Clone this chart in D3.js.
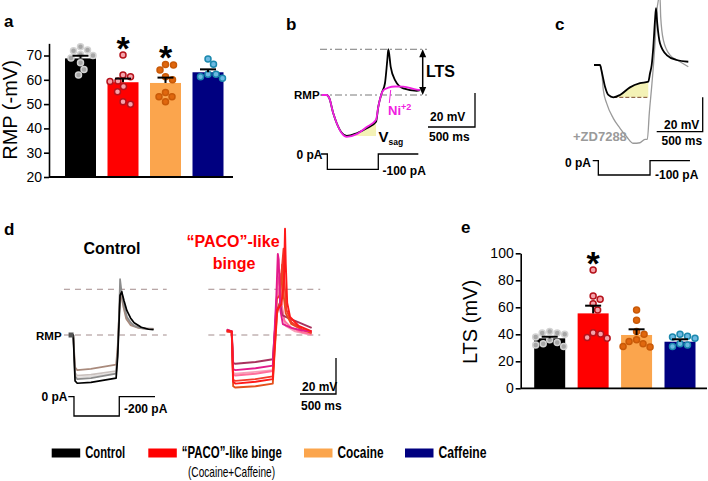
<!DOCTYPE html>
<html lang="en">
<head>
<meta charset="UTF-8">
<title>RMP, LTS and traces</title>
<script src="https://d3js.org/d3.v7.min.js"></script>
<style>
  body { margin: 0; background: #fff; }
  svg { font-family: "Liberation Sans", Arial, sans-serif; }
  .bold { font-weight: bold; }
</style>
</head>
<body>
<svg width="708" height="481"></svg>
<script>
// ---------- data ----------
const groups = ["Control", "PACO", "Cocaine", "Caffeine"];
const legendNames = ["Control", "\u201cPACO\u201d-like binge", "Cocaine", "Caffeine"];
const barColors = ["#000000", "#ff0000", "#fba54d", "#000080"];
const dotFill = ["#a6a6a6", "#f5a3ab", "#e0670e", "#6cb9e2"];
const dotStroke = ["#d2d2d2", "#b5121b", "#c95a08", "#1b88ad"];

// a: resting membrane potential (-mV)
const rmpMean = [68.8, 59.0, 58.7, 63.1];
const rmpSem = [1.1, 1.5, 2.2, 1.2];
const rmpPoints = [
  [73.6, 72.3, 72, 70.4, 70, 69, 67, 64.2, 62],
  [70.2, 62, 61.3, 59.5, 59.3, 57.2, 55.1, 51, 49.9],
  [66.3, 66.1, 64, 61.3, 60, 54.8, 53, 53, 51],
  [68.6, 66.4, 62.3, 62.3, 61.3, 60.6]
];
const rmpTicks = [20, 30, 40, 50, 60, 70];
const rmpStars = ["PACO", "Cocaine"];

// e: LTS amplitude (mV)
const ltsMean = [37, 55.5, 39.5, 34.5];
const ltsSem = [1.2, 5.7, 4.2, 1.8];
const ltsPoints = [
  [42, 41, 41, 40, 38, 36, 34, 33, 32, 31],
  [87.6, 68.4, 65.9, 62.7, 58, 41.2, 40.2, 37.7, 37],
  [58, 50.5, 42, 40, 36, 34.6, 33, 31, 30.6],
  [40, 38.5, 38, 37, 33, 32, 31]
];
const ltsTicks = [0, 20, 40, 60, 80, 100];
const ltsStars = ["PACO"];

// b: example trace [ms, mV from RMP], control and Ni2+
const traceB = [[0,0],[53,0],[81,-1.9],[123,-10.8],[160,-16.6],[213,-22.2],[266,-24.1],[372,-22.5],[479,-19.6],[578,-15.7],[602,-6.9],[638,1],[673,6.9],[698,20.6],[709,26.9],[734,16.6],[780,8.8],[868,3.9],[1011,2.5],[1046,2.9]];
const traceBNi = [[0,0],[53,0],[81,-1.9],[123,-10.8],[160,-16.6],[213,-22.5],[266,-24.6],[372,-23],[479,-18.8],[578,-14.5],[602,-7],[638,1],[660,3],[709,4.3],[780,5],[868,4.9],[1011,3.2],[1046,3]];
const stepB = [[-7,0],[60,0],[60,-100],[602,-100],[602,0],[1028,0]];

// c: control and +ZD7288
const traceC = [[0,0],[65,0],[84,-3.9],[120,-12.6],[156,-17.4],[210,-18.8],[283,-17.4],[391,-13],[500,-10.6],[590,-9.7],[609,-4.8],[627,0],[645,10.6],[663,26],[674,33],[688,24],[717,12.6],[790,5.8],[899,2.9],[1025,1.9]];
const traceCZD = [[0,0],[65,0],[84,-3.9],[101,-14.5],[138,-22.3],[210,-31],[283,-36.8],[355,-41.7],[427,-45.5],[500,-45.2],[554,-43.2],[580,-43.2],[601,-28.1],[627,-12.6],[645,-1],[663,12.6],[681,30],[700,37.8],[717,40],[725,28],[754,14.5],[826,5.8],[935,1.9],[1025,-1]];
const stepC = [[-14,0],[47,0],[47,-100],[609,-100],[609,0],[1043,0]];

// d: control traces
const ctrlTraces = [
  {c: "#e2dedd", d: [[0,0],[55,0],[80,-22],[110,-23.5],[300,-23],[650,-21],[672,-9],[690,9],[705,23],[725,21],[760,14],[810,8],[900,5],[1050,3.6],[1170,3.2]]},
  {c: "#c9c0bd", d: [[0,0],[55,0],[80,-21],[110,-22.5],[300,-22],[650,-20],[672,-8],[690,10],[705,25],[725,24],[760,16],[800,10],[870,6],[1000,4],[1170,3.5]]},
  {c: "#a98a7c", d: [[0,0],[55,0],[80,-18],[110,-19.5],[300,-18.8],[650,-16.5],[672,-6],[690,10],[705,20],[720,22],[750,16],[790,9],[850,5.5],[950,4],[1050,3.5],[1170,3.3]]},
  {c: "#8c8c8c", d: [[0,0],[55,0],[80,-23],[110,-24.5],[300,-24],[650,-21.5],[672,-10],[690,10],[705,31],[720,26],[750,18],[800,10],[850,7],[900,5],[1000,3.8],[1100,3.3],[1170,3.2]]},
  {c: "#000000", d: [[0,0],[55,0],[80,-25.5],[110,-26.8],[300,-26.3],[650,-24],[672,-12],[690,6],[705,22],[728,24],[760,19],[800,13.5],[850,9.5],[900,6.8],[1000,4.3],[1100,3.2],[1170,3]]}
];
// d: PACO-like binge traces
const pacoTraces = [
  {c: "#f7a0b8", d: [[0,2],[70,1.5],[90,-21],[120,-21.5],[400,-20.5],[640,-19.5],[665,0],[700,20],[730,26],[760,15],[820,5],[950,2],[1180,0]]},
  {c: "#ff6f9c", d: [[0,2],[70,1.5],[90,-22],[120,-22.5],[400,-21.5],[640,-20],[660,-5],[690,18],[715,30],[740,34],[760,18],[800,8],[900,4],[1050,1.5],[1180,0.5]]},
  {c: "#a8325e", d: [[0,3],[70,2],[90,-15.5],[120,-16],[400,-15],[640,-13.5],[655,-5],[680,8],[700,14],[740,18],[770,11],[850,9.5],[1000,7],[1180,4]]},
  {c: "#e4501c", d: [[0,2],[70,1.5],[90,-28.5],[120,-29.2],[400,-28.5],[640,-27],[665,-10],[700,12],[740,18],[770,39],[785,24],[820,12],[900,6],[1050,3],[1180,1]]},
  {c: "#f23a2a", d: [[0,2],[70,2],[90,-25],[120,-25.5],[400,-24.5],[640,-23],[662,-6],[695,20],[735,22],[790,48],[800,30],[830,14],[900,7],[1050,3],[1180,1.5]]},
  {c: "#e31b8c", d: [[0,3],[70,2],[90,-19],[120,-19.5],[400,-18.5],[640,-17],[660,-2],[690,22],[710,45],[722,42],[745,14],[780,6],[900,4],[1050,2.5],[1180,2]]},
  {c: "#ff1a1a", d: [[0,2.5],[70,2],[90,-26],[120,-27],[400,-26],[640,-24.5],[665,-8],[700,14],[760,17],[795,30],[810,59],[820,40],[840,18],[880,10],[1000,5],[1180,2]]}
];
const stepD = [[-14,0],[65,0],[65,-200],[694,-200],[694,0],[1190,0]];
const ltsLevelD = 25.4;

// ---------- helpers ----------
const svg = d3.select("svg");

function txt(x, y, s, size, opts = {}) {
  const t = svg.append("text").attr("x", x).attr("y", y).text(s)
    .attr("font-size", size).attr("fill", opts.fill || "#000");
  if (opts.bold !== false) t.attr("font-weight", "bold");
  if (opts.anchor) t.attr("text-anchor", opts.anchor);
  if (opts.len) t.attr("textLength", opts.len).attr("lengthAdjust", "spacingAndGlyphs");
  return t;
}

function dodge(vals, y, r) {
  const placed = [];
  return vals.map(v => {
    const py = y(v);
    let dx = 0;
    for (let k = 0; k < 400; k++) {
      const c = (k % 2 ? 1 : -1) * Math.ceil(k / 2) * 0.5;
      if (placed.every(p => (p.dx - c) ** 2 + (p.y - py) ** 2 >= (2 * r) ** 2)) { dx = c; break; }
    }
    const p = {dx, y: py};
    placed.push(p);
    return p;
  });
}

function barPanel(o) {
  const x = d3.scalePoint().domain(groups).range(o.xr);
  const y = d3.scaleLinear().domain(o.dom).range(o.yr);
  const g = svg.append("g");
  g.selectAll("rect").data(o.mean).join("rect")
    .attr("x", (d, i) => x(groups[i]) - o.bw / 2).attr("width", o.bw)
    .attr("y", d => y(d)).attr("height", d => y(o.dom[0]) - y(d))
    .attr("fill", (d, i) => barColors[i]);
  o.pts.forEach((vals, i) => {
    g.append("g").selectAll("circle").data(dodge(vals, y, 3.8)).join("circle")
      .attr("cx", p => x(groups[i]) + p.dx).attr("cy", p => p.y).attr("r", 3)
      .attr("fill", dotFill[i]).attr("stroke", dotStroke[i]).attr("stroke-width", 1.5);
  });
  o.mean.forEach((m, i) => {
    const cx = x(groups[i]);
    g.append("line").attr("x1", cx).attr("x2", cx).attr("y1", y(m)).attr("y2", y(m + o.sem[i]))
      .attr("stroke", "#000").attr("stroke-width", 2);
    g.append("line").attr("x1", cx - 8).attr("x2", cx + 8).attr("y1", y(m + o.sem[i])).attr("y2", y(m + o.sem[i]))
      .attr("stroke", "#000").attr("stroke-width", 2);
  });
  o.stars.forEach(s => {
    const i = groups.indexOf(s);
    g.append("text").attr("x", x(s)).attr("y", y(d3.max(o.pts[i])) + 5)
      .attr("text-anchor", "middle").attr("font-size", 34).attr("font-weight", "bold").text("*");
  });
  const ax = g.append("g").attr("transform", `translate(${o.x0},0)`)
    .call(d3.axisLeft(y).tickValues(o.ticks).tickSize(5).tickSizeOuter(0).tickPadding(2));
  ax.attr("font-family", null).attr("font-size", 14);
  ax.selectAll("line, path").attr("stroke-width", 1.6);
  g.append("line").attr("x1", o.x0).attr("x2", o.x1).attr("y1", y(o.dom[0])).attr("y2", y(o.dom[0]))
    .attr("stroke", "#000").attr("stroke-width", 1.8);
  g.append("text").attr("transform", `translate(${o.labX},${o.labY}) rotate(-90)`)
    .attr("text-anchor", "middle").attr("font-size", 20).text(o.label);
}

function tracePanel(xs, ys, data, color, w, curve) {
  svg.append("path").datum(data)
    .attr("d", d3.line().x(d => xs(d[0])).y(d => ys(d[1])).curve(curve || d3.curveMonotoneX))
    .attr("fill", "none").attr("stroke", color).attr("stroke-width", w).attr("stroke-linejoin", "round");
}

function stepLine(xs, is, data) {
  svg.append("path").datum(data)
    .attr("d", d3.line().x(d => xs(d[0])).y(d => is(d[1])))
    .attr("fill", "none").attr("stroke", "#000").attr("stroke-width", 1.3);
}

function scaleBar(xs, ys, xr, yb, lw) {
  const w = xs(500) - xs(0), h = ys(0) - ys(20);
  svg.append("path").attr("d", `M${xr - w},${yb}H${xr}V${yb - h}`)
    .attr("fill", "none").attr("stroke", "#000").attr("stroke-width", lw || 1.3);
}

// ---------- panel a ----------
txt(4, 27, "a", 17);
barPanel({xr: [80.5, 208], dom: [20, 75], yr: [177, 177 - 55 * 2.43], bw: 31, mean: rmpMean, sem: rmpSem,
  pts: rmpPoints, ticks: rmpTicks, stars: rmpStars, x0: 49, x1: 233, label: "RMP (-mV)", labX: 17, labY: 110});

// ---------- panel e ----------
txt(461, 233, "e", 17);
barPanel({xr: [549.7, 680], dom: [0, 100], yr: [388.3, 253.3], bw: 31, mean: ltsMean, sem: ltsSem,
  pts: ltsPoints, ticks: ltsTicks, stars: ltsStars, x0: 520.7, x1: 707, label: "LTS (mV)", labX: 477, labY: 322});

// ---------- panel b ----------
txt(286, 30, "b", 17);
const xb = d3.scaleLinear().domain([0, 500]).range([321.7, 321.7 + 47]);
const yb = d3.scaleLinear().domain([0, 20]).range([95, 95 - 34]);
const ib = d3.scaleLinear().domain([0, -100]).range([154, 169.3]);
{
  const vmin = d3.min(traceB, d => d[1]);
  const tMin = traceB.find(d => d[1] === vmin)[0];
  const seg = traceB.filter(d => d[0] >= tMin && d[0] <= 578);
  svg.append("path").datum(seg)
    .attr("d", d3.area().x(d => xb(d[0])).y0(yb(vmin)).y1(d => yb(d[1])).curve(d3.curveMonotoneX))
    .attr("fill", "#f4f2b6");
  const vmax = d3.max(traceB, d => d[1]);
  [0, vmax].forEach(v => svg.append("line").attr("x1", 320).attr("x2", 427).attr("y1", yb(v)).attr("y2", yb(v))
    .attr("stroke", "#7a7a7a").attr("stroke-dasharray", "7,3,2,3").attr("stroke-width", 1));
  tracePanel(xb, yb, traceB, "#000", 1.8);
  tracePanel(xb, yb, traceBNi, "#f020e0", 1.8);
  // LTS double arrow
  const ax = 422.7, y1 = yb(vmax), y2 = yb(0);
  svg.append("line").attr("x1", ax).attr("x2", ax).attr("y1", y1 + 4).attr("y2", y2 - 4).attr("stroke", "#000").attr("stroke-width", 1.5);
  svg.append("path").attr("d", `M${ax},${y1}L${ax - 3.5},${y1 + 8}L${ax + 3.5},${y1 + 8}Z M${ax},${y2}L${ax - 3.5},${y2 - 8}L${ax + 3.5},${y2 - 8}Z`);
  txt(426, 77, "LTS", 16);
  txt(294, 99, "RMP", 11.5);
  svg.append("line").attr("x1", 389.3).attr("y1", 103).attr("x2", 390.7).attr("y2", 90).attr("stroke", "#f020e0").attr("stroke-width", 1);
  const ni = txt(388, 115, "Ni", 13, {fill: "#f020e0"});
  ni.append("tspan").attr("dy", -5).attr("font-size", 9).text("+2");
  const vs = txt(378.5, 141.5, "V", 15);
  vs.append("tspan").attr("dy", 3.5).attr("font-size", 8.5).text("sag");
  stepLine(xb, ib, stepB);
  txt(296.5, 159, "0 pA", 12);
  txt(382.5, 174.5, "-100 pA", 12);
  scaleBar(xb, yb, 475, 127);
  txt(430, 121, "20 mV", 12);
  txt(429, 141, "500 ms", 12);
}

// ---------- panel c ----------
txt(555, 30, "c", 17);
const xc = d3.scaleLinear().domain([0, 500]).range([594, 594 + 46]);
const yc = d3.scaleLinear().domain([0, 20]).range([65, 65 - 34.4]);
const ic = d3.scaleLinear().domain([0, -100]).range([160.7, 175]);
{
  const vmin = d3.min(traceC, d => d[1]);
  const tMin = traceC.find(d => d[1] === vmin)[0];
  const seg = traceC.filter(d => d[0] >= tMin && d[0] <= 590);
  svg.append("path").datum(seg)
    .attr("d", d3.area().x(d => xc(d[0])).y0(yc(vmin)).y1(d => yc(d[1])).curve(d3.curveMonotoneX))
    .attr("fill", "#f4f2b6");
  svg.append("line").attr("x1", xc(tMin)).attr("x2", xc(590)).attr("y1", yc(vmin)).attr("y2", yc(vmin))
    .attr("stroke", "#7a4a2a").attr("stroke-dasharray", "4,2").attr("stroke-width", 1);
  tracePanel(xc, yc, traceCZD, "#9a9a9a", 1.3);
  tracePanel(xc, yc, traceC, "#000", 1.8);
  txt(573, 141, "+ZD7288", 13, {fill: "#9a9a9a"});
  stepLine(xc, ic, stepC);
  txt(565, 167, "0 pA", 12);
  txt(655, 179, "-100 pA", 12);
  scaleBar(xc, yc, 702.7, 131.7);
  txt(664, 129, "20 mV", 12);
  txt(661.5, 145, "500 ms", 12);
}

// ---------- panel d ----------
txt(4, 235, "d", 17);
txt(112, 254, "Control", 16, {anchor: "middle"});
txt(233, 247, "\u201cPACO\u201d-like", 16, {anchor: "middle", fill: "#ff0000"});
txt(234, 269, "binge", 16, {anchor: "middle", fill: "#ff0000"});
const yd = d3.scaleLinear().domain([0, 20]).range([335, 335 - 36]);
const xdC = d3.scaleLinear().domain([0, 500]).range([69.3, 69.3 + 36]);
const xdP = d3.scaleLinear().domain([0, 500]).range([226.7, 226.7 + 36]);
const id = d3.scaleLinear().domain([0, -200]).range([396.7, 416]);
[[xdC, -74, 1353], [xdP, -255, 1299]].forEach(([xs, t0, t1]) => {
  [0, ltsLevelD].forEach(v => svg.append("line").attr("x1", xs(t0)).attr("x2", xs(t1)).attr("y1", yd(v)).attr("y2", yd(v))
    .attr("stroke", "#a38c8c").attr("stroke-dasharray", "6,5").attr("stroke-width", 1));
});
ctrlTraces.forEach(t => tracePanel(xdC, yd, t.d, t.c, 1.7, d3.curveLinear));
svg.append("rect").attr("x", xdC(-10)).attr("y", yd(0) - 2.5).attr("width", 5).attr("height", 5).attr("fill", "#555");
pacoTraces.forEach(t => tracePanel(xdP, yd, t.d, t.c, 1.9, d3.curveLinear));
txt(36, 340, "RMP", 11.5);
stepLine(xdC, id, stepD);
txt(41.5, 401, "0 pA", 12);
txt(124, 413, "-200 pA", 12);
scaleBar(xdP, yd, 336, 394);
txt(302, 391, "20 mV", 12);
txt(301, 410, "500 ms", 12);

// ---------- legend ----------
const legX = [51.7, 148.3, 304, 405];
const legLen = [40, 100, 46, 48];
legendNames.forEach((n, i) => {
  svg.append("rect").attr("x", legX[i]).attr("y", 448.5).attr("width", 28.5).attr("height", 9).attr("fill", barColors[i]);
  txt(legX[i] + 33.5, 457.5, n, 17, {len: legLen[i]});
});
txt(188, 477, "(Cocaine+Caffeine)", 14.5, {bold: false, len: 87});
</script>
</body>
</html>
